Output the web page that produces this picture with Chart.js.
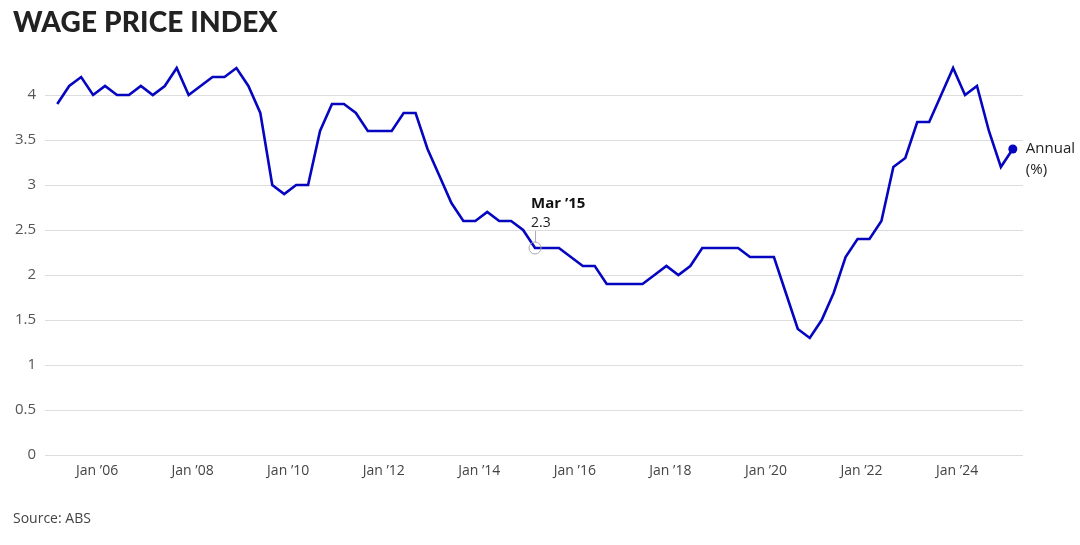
<!DOCTYPE html>
<html>
<head>
<meta charset="utf-8">
<script src="https://cdn.jsdelivr.net/npm/chart.js@4.4.1/dist/chart.umd.min.js"></script>
<style>
  body { margin: 0; background: #fff; }
  #wrap { position: relative; width: 1080px; height: 545px; }
  #title { position: absolute; left: 13px; top: 4px; font-family: Lato, sans-serif; font-weight: 900; font-size: 28px; color: #222; letter-spacing: 0.15px; }
  #source { position: absolute; left: 13px; top: 508px; font-family: 'Open Sans', sans-serif; font-size: 14px; color: #444; }
</style>
</head>
<body>
<div id="wrap">
  <canvas id="wpiChart"></canvas>
  <div id="title">WAGE PRICE INDEX</div>
  <div id="source">Source: ABS</div>
</div>
<script>
// quarterly series, Mar 2005 -> Mar 2025
const firstYear = 2005;
const quarterMonths = [3, 6, 9, 12];
const wpiAnnual = [
  3.9, 4.1, 4.2, 4.0,   // 2005
  4.1, 4.0, 4.0, 4.1,   // 2006
  4.0, 4.1, 4.3, 4.0,   // 2007
  4.1, 4.2, 4.2, 4.3,   // 2008
  4.1, 3.8, 3.0, 2.9,   // 2009
  3.0, 3.0, 3.6, 3.9,   // 2010
  3.9, 3.8, 3.6, 3.6,   // 2011
  3.6, 3.8, 3.8, 3.4,   // 2012
  3.1, 2.8, 2.6, 2.6,   // 2013
  2.7, 2.6, 2.6, 2.5,   // 2014
  2.3, 2.3, 2.3, 2.2,   // 2015
  2.1, 2.1, 1.9, 1.9,   // 2016
  1.9, 1.9, 2.0, 2.1,   // 2017
  2.0, 2.1, 2.3, 2.3,   // 2018
  2.3, 2.3, 2.2, 2.2,   // 2019
  2.2, 1.8, 1.4, 1.3,   // 2020
  1.5, 1.8, 2.2, 2.4,   // 2021
  2.4, 2.6, 3.2, 3.3,   // 2022
  3.7, 3.7, 4.0, 4.3,   // 2023
  4.0, 4.1, 3.6, 3.2,   // 2024
  3.4                   // 2025
];
const xTickYears = [2006, 2008, 2010, 2012, 2014, 2016, 2018, 2020, 2022, 2024];
const xTickLabels = ['Jan ’06', 'Jan ’08', 'Jan ’10', 'Jan ’12', 'Jan ’14', 'Jan ’16', 'Jan ’18', 'Jan ’20', 'Jan ’22', 'Jan ’24'];
const yTicks = [0, 0.5, 1, 1.5, 2, 2.5, 3, 3.5, 4];
const highlightIndex = 40; // Mar '15
const highlightLabel = 'Mar ’15';
const seriesLabel = ['Annual', '(%)'];

const lineColor = '#0606c0';

// decimal year at month start (Mar -> +2/12)
const points = wpiAnnual.map((v, i) => {
  const year = firstYear + Math.floor(i / 4);
  const month = quarterMonths[i % 4];
  return { x: year + (month - 1) / 12, y: v };
});

const annotations = {
  id: 'annotations',
  afterDatasetsDraw(chart) {
    const ctx = chart.ctx;
    const meta = chart.getDatasetMeta(0);

    // highlighted point
    const hp = meta.data[highlightIndex];
    ctx.save();
    ctx.strokeStyle = '#aaaaaa';
    ctx.lineWidth = 1;
    ctx.beginPath();
    ctx.arc(hp.x, hp.y, 6, 0, Math.PI * 2);
    ctx.stroke();
    ctx.beginPath();
    ctx.moveTo(hp.x + 0.5, hp.y - 6);
    ctx.lineTo(hp.x + 0.5, hp.y - 17);
    ctx.stroke();
    ctx.textAlign = 'left';
    ctx.textBaseline = 'middle';
    ctx.fillStyle = '#222';
    ctx.font = '14px "Open Sans"';
    ctx.fillText(wpiAnnual[highlightIndex].toFixed(1), hp.x - 4, hp.y - 25);
    ctx.fillStyle = '#111';
    ctx.font = 'bold 15px "Open Sans"';
    ctx.fillText(highlightLabel, hp.x - 4, hp.y - 44);

    // end label
    const last = meta.data[meta.data.length - 1];
    ctx.fillStyle = '#222';
    ctx.font = '15px "Open Sans"';
    ctx.fillText(seriesLabel[0], last.x + 13, last.y);
    ctx.fillText(seriesLabel[1], last.x + 13, last.y + 21);
    ctx.restore();
  }
};

new Chart(document.getElementById('wpiChart'), {
  type: 'line',
  data: {
    datasets: [{
      data: points,
      borderColor: lineColor,
      backgroundColor: lineColor,
      borderWidth: 2.6,
      tension: 0,
      pointRadius: points.map((p, i) => i === points.length - 1 ? 4.5 : 0),
      pointBackgroundColor: lineColor,
      pointBorderWidth: 0,
      pointHoverRadius: 0
    }]
  },
  options: {
    responsive: true,
    maintainAspectRatio: false,
    animation: false,
    events: [],
    layout: { padding: { left: 0, right: 57, top: 59, bottom: 60 } },
    scales: {
      x: {
        type: 'linear',
        min: 2004.91,
        max: 2025.38,
        afterBuildTicks: scale => { scale.ticks = xTickYears.map(v => ({ value: v })); },
        afterFit: scale => { scale.height = 30; },
        grid: { display: false, drawTicks: false },
        border: { display: false },
        ticks: {
          padding: 8,
          maxRotation: 0,
          autoSkip: false,
          color: '#444',
          font: { family: 'Open Sans', size: 14 },
          callback: (v) => xTickLabels[xTickYears.indexOf(v)]
        }
      },
      y: {
        min: 0,
        max: 4.4,
        afterBuildTicks: scale => { scale.ticks = yTicks.map(v => ({ value: v })); },
        afterFit: scale => { scale.width = 45; },
        grid: { color: '#dddddd', lineWidth: 1, drawTicks: false },
        border: { display: false },
        ticks: {
          padding: 9,
          color: '#555',
          font: { family: 'Open Sans', size: 15 },
          callback: v => String(v)
        }
      }
    },
    plugins: {
      legend: { display: false },
      tooltip: { enabled: false }
    }
  },
  plugins: [annotations]
});
</script>
</body>
</html>
